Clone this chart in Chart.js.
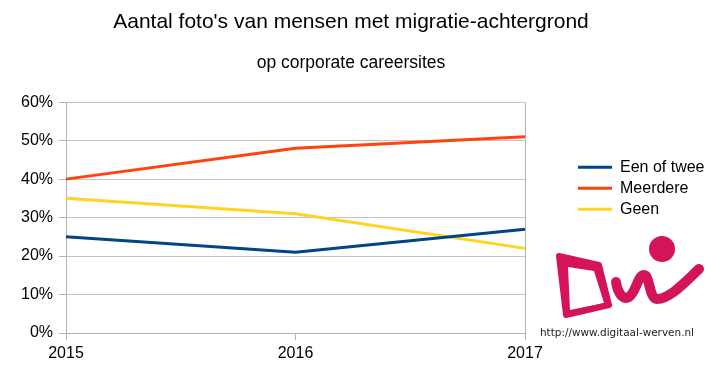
<!DOCTYPE html>
<html>
<head>
<meta charset="utf-8">
<script src="https://cdn.jsdelivr.net/npm/chart.js@4/dist/chart.umd.min.js"></script>
<style>
html,body{margin:0;padding:0;background:#fff;}
#c{display:block;}
</style>
</head>
<body>
<canvas id="c" width="713" height="376"></canvas>
<script>
const titleText = "Aantal foto's van mensen met migratie-achtergrond";
const subtitleText = "op corporate careersites";
const years = ["2015", "2016", "2017"];
const eenOfTwee = [25, 21, 27];
const meerdere = [40, 48, 51];
const geen = [35, 31, 22];
const yTicks = [0, 10, 20, 30, 40, 50, 60];
const seriesNames = ["Een of twee", "Meerdere", "Geen"];
const urlText = "http://www.digitaal-werven.nl";

const FONT = "'Liberation Sans', Arial, Helvetica, sans-serif";
const GRID = "#c4c4c4";
const AXIS = "#b3b3b3";
const PAD_R = 58;

const boxMover = {
  id: 'boxMover',
  afterLayout(chart) {
    const lg = chart.legend;
    if (lg) { lg.left = 573; lg.right = 713; lg.width = 140; }
    chart.boxes.forEach(b => {
      if (b !== lg && b.options && b.options.position === 'top' && typeof b.options.text === 'string') {
        b.left = 0; b.right = 702; b.width = 702;
      }
    });
  }
};

const logoPlugin = {
  id: 'logo',
  afterDraw(chart) {
    const ctx = chart.ctx;
    ctx.save();
    const col = '#d4145a';
    ctx.fillStyle = col;
    ctx.strokeStyle = col;
    ctx.lineJoin = 'round';
    ctx.lineWidth = 6;
    const outer = () => {
      ctx.moveTo(559, 256); ctx.lineTo(599, 265); ctx.lineTo(609, 305); ctx.lineTo(566, 315); ctx.closePath();
    };
    ctx.beginPath(); outer(); ctx.stroke();
    ctx.beginPath(); outer();
    ctx.moveTo(568, 267); ctx.lineTo(570, 310); ctx.lineTo(604, 303); ctx.lineTo(594, 271); ctx.closePath();
    ctx.fill('evenodd');
    ctx.beginPath();
    ctx.arc(662, 249, 13, 0, Math.PI * 2);
    ctx.fill();
    ctx.lineWidth = 10;
    ctx.lineCap = 'round';
    ctx.lineJoin = 'round';
    ctx.beginPath();
    ctx.moveTo(616, 282);
    ctx.bezierCurveTo(618, 295, 624, 300, 629, 297);
    ctx.bezierCurveTo(636, 292, 638, 275, 644, 275);
    ctx.bezierCurveTo(650, 275, 649, 299, 657, 299);
    ctx.bezierCurveTo(670, 299, 686, 281, 699, 269);
    ctx.stroke();
    ctx.fillStyle = '#222';
    ctx.font = "10.5px 'DejaVu Sans', Verdana, sans-serif";
    ctx.textBaseline = 'alphabetic';
    ctx.textAlign = 'left';
    ctx.fillText(urlText, 540, 336, 154);
    ctx.restore();
  }
};

new Chart(document.getElementById('c'), {
  type: 'line',
  data: {
    labels: years,
    datasets: [
      { label: seriesNames[0], data: eenOfTwee, borderColor: '#004586', backgroundColor: '#004586' },
      { label: seriesNames[1], data: meerdere, borderColor: '#ff420e', backgroundColor: '#ff420e' },
      { label: seriesNames[2], data: geen, borderColor: '#ffd320', backgroundColor: '#ffd320' }
    ]
  },
  options: {
    responsive: false,
    animation: false,
    devicePixelRatio: 1,
    layout: { padding: { left: 0, right: PAD_R, top: 0, bottom: 0 } },
    elements: {
      line: { borderWidth: 3, tension: 0 },
      point: { radius: 0, hoverRadius: 0 }
    },
    plugins: {
      title: {
        display: true, text: titleText, color: '#000',
        font: { family: FONT, size: 21, weight: 'normal', lineHeight: 1.2 },
        padding: { top: 10, bottom: 8 }
      },
      subtitle: {
        display: true, text: subtitleText, color: '#000',
        font: { family: FONT, size: 17.5, weight: 'normal', lineHeight: 1.2 },
        padding: { top: 9, bottom: 29 }
      },
      legend: {
        position: 'right', align: 'start', fullSize: false, maxWidth: 130,
        title: { display: true, text: '', font: { size: 10 }, padding: { top: 0, bottom: 40 } },
        labels: {
          boxWidth: 34, boxHeight: 3, padding: 5, color: '#000',
          font: { family: FONT, size: 16 },
          generateLabels(chart) {
            const items = Chart.defaults.plugins.legend.labels.generateLabels(chart);
            items.forEach(it => { it.lineWidth = 0; it.strokeStyle = 'rgba(0,0,0,0)'; });
            return items;
          }
        }
      },
      tooltip: { enabled: false }
    },
    scales: {
      x: {
        type: 'category', offset: false,
        grid: {
          drawOnChartArea: true,
          color: (c) => (c.index === years.length - 1 ? AXIS : 'rgba(0,0,0,0)'),
          tickColor: AXIS, tickLength: 7, lineWidth: 1
        },
        border: { display: true, color: AXIS },
        ticks: { color: '#000', font: { family: FONT, size: 16 }, padding: 4, maxRotation: 0, autoSkip: false },
        afterFit(s) { s.height = 43; }
      },
      y: {
        min: 0, max: 60,
        afterBuildTicks(s) { s.ticks = yTicks.map(v => ({ value: v })); },
        grid: { color: GRID, tickColor: AXIS, tickLength: 7 },
        border: { display: true, color: AXIS },
        ticks: { color: '#000', font: { family: FONT, size: 16 }, padding: 6, callback: (v) => v + '%' },
        afterFit(s) { s.width = 66; }
      }
    }
  },
  plugins: [logoPlugin, boxMover]
});
</script>
</body>
</html>
